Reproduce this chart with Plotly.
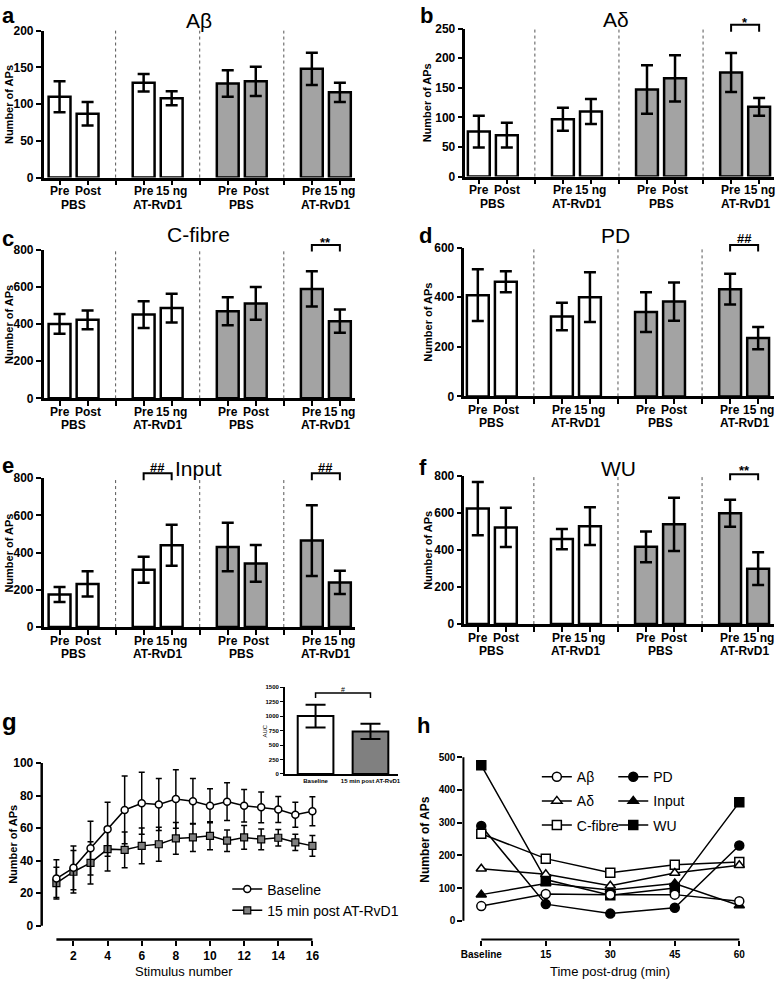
import plotly.graph_objects as go

W, H = 778, 984
FONT = "Liberation Sans, Arial, Helvetica, sans-serif"

# ---------------- data ----------------
bar_pos = [0, 1, 3, 4, 6, 7, 9, 10]
bar_labels = ["Pre", "Post", "Pre", "15 ng", "Pre", "Post", "Pre", "15 ng"]
group_centers = [0.5, 3.5, 6.5, 9.5]
group_labels = ["PBS", "AT-RvD1", "PBS", "AT-RvD1"]
divider_pos = [2, 5, 8]
minor_ticks = list(range(11))
bar_fill = ["white"] * 4 + ["#a3a3a3"] * 4

ab_mean = [110, 87, 129, 108, 128, 131, 148, 116]
ab_err = [21, 16, 12, 9.5, 18, 20, 22, 13]
ad_mean = [76, 70, 97, 110, 147, 166, 176, 118]
ad_err = [27, 21, 19.5, 21, 41, 39, 33, 15]
c_mean = [400, 422, 450, 485, 468, 510, 588, 415]
c_err = [53, 50, 72, 77, 75, 88, 95, 62]
pd_mean = [408, 462, 322, 400, 340, 382, 432, 235]
pd_err = [104, 42, 55, 100, 80, 77, 62, 45]
in_mean = [175, 232, 308, 440, 430, 342, 465, 240]
in_err = [40, 68, 70, 110, 130, 99, 190, 62]
wu_mean = [625, 523, 460, 530, 418, 540, 600, 300]
wu_err = [144, 106, 55, 102, 83, 144, 73, 89]

stim = list(range(1, 17))
g_base = [29, 35.6, 47.7, 59.4, 71.2, 75.3, 74.6, 77.9, 76.5, 73.8, 76.3, 73.8, 72.8, 71.4, 68.2, 70.4]
g_base_err = [11.6, 13.5, 16.5, 16.6, 20.8, 19, 16, 18, 14, 10.5, 11.6, 10, 9.5, 8, 7.7, 8.9]
g_post = [26.2, 33.2, 38.6, 47.1, 46.7, 49.1, 50.1, 53.7, 54.3, 55.3, 52.3, 54.3, 53.1, 54.1, 51.3, 49.1]
g_post_err = [9.7, 13, 13, 13.5, 11, 11, 10.5, 9.7, 8.6, 8.6, 6.6, 7.3, 6.4, 5, 5, 6.4]

auc_labels = ["Baseline", "15 min post AT-RvD1"]
auc_mean = [1000, 735]
auc_err = [197, 133]
auc_fill = ["white", "#808080"]

times = [0, 15, 30, 45, 60]
time_labels = ["Baseline", "15", "30", "45", "60"]
h_ab = [45, 82, 80, 80, 60]
h_ad = [159, 142, 107, 146, 170]
h_c = [266, 190, 147, 171, 180]
h_pd = [290, 51, 22, 40, 230]
h_in = [80, 114, 94, 114, 47]
h_wu = [475, 126, 78, 100, 362]


def px_x(x):
    return x / W


def px_y(y):
    return 1 - y / H


def dom_x(x0, x1):
    return [x0 / W, x1 / W]


def dom_y(ytop, ybot):
    return [1 - ybot / H, 1 - ytop / H]


fig = go.Figure()
layout = dict(
    width=W, height=H, margin=dict(l=0, r=0, t=0, b=0), autosize=False,
    paper_bgcolor="white", plot_bgcolor="white",
    font=dict(family=FONT, color="black"),
    showlegend=True, shapes=[], annotations=[],
)

BOLD = dict(family=FONT, size=12, color="black", weight="bold")

panels = [
    ("a", "Aβ", ab_mean, ab_err, 200, 50, 41, 355, 24, 173, -0.566, (198, 14), (-3, 9), 6, []),
    ("b", "Aδ", ad_mean, ad_err, 250, 50, 466, 777, 22, 172, -0.478, (618, 13), (418, 9), 427,
     [(9, 10, 18, 25, "*", 13)]),
    ("c", "C-fibre", c_mean, c_err, 800, 200, 41, 355, 246, 397, -0.566, (197, 231), (-3, 235), 6,
     [(9, 10, 241.5, 248, "**", 236)]),
    ("d", "PD", pd_mean, pd_err, 600, 200, 465, 777, 244, 395, -0.478, (617, 232), (417, 232), 428,
     [(9, 10, 241.5, 248, "##", 235)]),
    ("e", "Input", in_mean, in_err, 800, 200, 41, 355, 478, 629, -0.566, (197, 468), (-3, 465), 6,
     [(3, 4, 473, 480, "##", 467), (9, 10, 473, 480, "##", 467)]),
    ("f", "WU", wu_mean, wu_err, 800, 200, 465, 777, 476, 626, -0.478, (620, 468), (417, 467), 428,
     [(9, 10, 474, 480, "**", 467)]),
]

UNIT = 28.25

for i, (letter, title, mean, err, ymax, dtick, x0, x1, yt, yb, left, tpos, lpos, ytx, brackets) in enumerate(panels):
    n = i + 1
    xa = "x" if n == 1 else f"x{n}"
    ya = "y" if n == 1 else f"y{n}"
    xk = "xaxis" if n == 1 else f"xaxis{n}"
    yk = "yaxis" if n == 1 else f"yaxis{n}"
    right = left + (x1 - x0) / UNIT
    fig.add_trace(go.Bar(
        x=bar_pos, y=mean, width=0.78, xaxis=xa, yaxis=ya, showlegend=False,
        marker=dict(color=bar_fill, line=dict(color="black", width=2.5)),
        error_y=dict(type="data", array=err, visible=True, color="black", thickness=2.5, width=6),
    ))
    layout[xk] = dict(
        domain=dom_x(x0, x1), range=[left, right], anchor=ya,
        showline=True, linewidth=2.5, linecolor="black",
        tickmode="array", tickvals=group_centers, showticklabels=False, ticks="",
        showgrid=False, zeroline=False, fixedrange=True,
        minor=dict(tickmode="array", tickvals=minor_ticks, ticks="outside", ticklen=5,
                   tickwidth=2, tickcolor="black", showgrid=False),
    )
    layout[yk] = dict(
        domain=dom_y(yt, yb), range=[0, ymax], anchor=xa,
        showline=True, linewidth=2.5, linecolor="black",
        ticks="outside", ticklen=5, tickwidth=2, tickcolor="black", dtick=dtick, tick0=0,
        tickfont=BOLD, showgrid=False, zeroline=False, fixedrange=True,
    )
    for d in divider_pos:
        layout["shapes"].append(dict(type="line", xref=xa, yref=f"{ya} domain", x0=d, x1=d, y0=0, y1=1,
                                     line=dict(color="#555555", width=1, dash="dot")))
    for bx, bl in zip(bar_pos, bar_labels):
        layout["annotations"].append(dict(
            text=bl, xref=xa, yref="paper", x=bx, y=px_y(yb + 14), showarrow=False,
            font=BOLD, xanchor="center", yanchor="middle"))
    for gx, gl in zip(group_centers, group_labels):
        layout["annotations"].append(dict(
            text=gl, xref=xa, yref="paper", x=gx, y=px_y(yb + 27.5), showarrow=False,
            font=BOLD, xanchor="center", yanchor="middle"))
    for (bx0, bx1, byt, byb, txt, tyy) in brackets:
        layout["shapes"].append(dict(
            type="path", xref=xa, yref="paper",
            path=f"M {bx0},{px_y(byb)} L {bx0},{px_y(byt)} L {bx1},{px_y(byt)} L {bx1},{px_y(byb)}",
            line=dict(color="black", width=2)))
        layout["annotations"].append(dict(
            text=txt, xref=xa, yref="paper", x=(bx0 + bx1) / 2, y=px_y(tyy + (3 if txt.startswith("*") else 0)),
            showarrow=False, font=dict(family=FONT, size=13, weight="bold"), xanchor="center", yanchor="middle"))
    layout["annotations"].append(dict(
        text=title, xref="paper", yref="paper", x=px_x(tpos[0]), y=px_y(tpos[1]),
        showarrow=False, font=dict(family=FONT, size=21), xanchor="center", yanchor="middle"))
    layout["annotations"].append(dict(
        text=letter, xref="paper", yref="paper", x=px_x(lpos[0]), y=px_y(lpos[1]),
        showarrow=False, font=dict(family=FONT, size=22, weight="bold"), xanchor="left", yanchor="middle"))
    layout["annotations"].append(dict(
        text="Number of APs", xref="paper", yref="paper", x=px_x(ytx), y=px_y((yt + yb) / 2),
        showarrow=False, textangle=-90, font=dict(family=FONT, size=11, weight="bold"),
        xanchor="center", yanchor="middle"))

# ---------------- panel g ----------------
G_UNIT = 17.2
g_left = 1 - (53.8 - 39) / G_UNIT
g_right = 1 + (320 - 53.8) / G_UNIT
G_YU = 1.65
g_bot = -(946 - 932) / G_YU
g_top = 100 + (767 - 760) / G_YU

fig.add_trace(go.Scatter(
    x=stim, y=g_post, xaxis="x7", yaxis="y7", mode="lines+markers", name="15 min post AT-RvD1",
    line=dict(color="black", width=1.5),
    marker=dict(symbol="square", size=7, color="#808080", line=dict(color="black", width=1.2)),
    error_y=dict(type="data", array=g_post_err, visible=True, color="black", thickness=1.5, width=3),
    legend="legend",
))
fig.add_trace(go.Scatter(
    x=stim, y=g_base, xaxis="x7", yaxis="y7", mode="lines+markers", name="Baseline",
    line=dict(color="black", width=1.5),
    marker=dict(symbol="circle", size=7, color="white", line=dict(color="black", width=1.5)),
    error_y=dict(type="data", array=g_base_err, visible=True, color="black", thickness=1.5, width=3),
    legend="legend",
))
layout["xaxis7"] = dict(domain=dom_x(39, 320), range=[g_left, g_right], anchor="y7",
                        showline=False, tickmode="array", tickvals=list(range(2, 17, 2)),
                        ticks="outside", ticklen=5, tickwidth=2, tickcolor="black",
                        tickfont=BOLD, showgrid=False, zeroline=False, fixedrange=True)
layout["yaxis7"] = dict(domain=dom_y(760, 946), range=[g_bot, g_top], anchor="x7",
                        showline=False, tickmode="array", tickvals=list(range(0, 101, 20)),
                        ticks="outside", ticklen=5, tickwidth=2, tickcolor="black",
                        tickfont=BOLD, showgrid=False, zeroline=False, fixedrange=True)
layout["shapes"].append(dict(type="line", xref="x7", yref="y7 domain", x0=stim[0], x1=stim[-1], y0=0, y1=0,
                             line=dict(color="black", width=2.5)))
layout["shapes"].append(dict(type="line", xref="x7 domain", yref="y7", x0=0, x1=0, y0=0, y1=100,
                             line=dict(color="black", width=2.5)))
layout["annotations"] += [
    dict(text="g", xref="paper", yref="paper", x=px_x(-3), y=px_y(725), showarrow=False,
         font=dict(family=FONT, size=24, weight="bold"), xanchor="left", yanchor="middle"),
    dict(text="Number of APs", xref="paper", yref="paper", x=px_x(10), y=px_y(849), showarrow=False,
         textangle=-90, font=dict(family=FONT, size=11, weight="bold"), xanchor="center", yanchor="middle"),
    dict(text="Stimulus number", xref="paper", yref="paper", x=px_x(182), y=px_y(978), showarrow=False,
         font=dict(family=FONT, size=13), xanchor="center", yanchor="middle"),
]
layout["legend"] = dict(x=px_x(226), y=px_y(879), xanchor="left", yanchor="top",
                        font=dict(family=FONT, size=14), bgcolor="rgba(0,0,0,0)", traceorder="reversed",
                        itemclick=False, itemdoubleclick=False)

# ---------------- inset AUC ----------------
fig.add_trace(go.Bar(
    x=[0, 1], y=auc_mean, width=0.65, xaxis="x8", yaxis="y8", showlegend=False,
    marker=dict(color=auc_fill, line=dict(color="black", width=2)),
    error_y=dict(type="data", array=auc_err, visible=True, color="black", thickness=2, width=10),
))
SMALL = dict(family=FONT, size=6, color="black", weight="bold")
layout["xaxis8"] = dict(domain=dom_x(284, 398), range=[-0.56, 1.5], anchor="y8",
                        showline=True, linewidth=1.5, linecolor="black",
                        tickmode="array", tickvals=[0, 1], ticktext=auc_labels, ticks="",
                        tickfont=SMALL, showgrid=False, zeroline=False, fixedrange=True)
layout["yaxis8"] = dict(domain=dom_y(690, 778), range=[0, 1500], anchor="x8",
                        showline=True, linewidth=1.5, linecolor="black", dtick=250, tick0=0,
                        ticks="outside", ticklen=3, tickwidth=1, tickcolor="black",
                        tickfont=SMALL, showgrid=False, zeroline=False, fixedrange=True)
layout["shapes"].append(dict(type="path", xref="x8", yref="paper",
                             path=f"M 0,{px_y(701)} L 0,{px_y(696)} L 1,{px_y(696)} L 1,{px_y(701)}",
                             line=dict(color="black", width=1.5)))
layout["annotations"] += [
    dict(text="#", xref="x8", yref="paper", x=0.5, y=px_y(692), showarrow=False,
         font=dict(family=FONT, size=7), xanchor="center", yanchor="middle"),
    dict(text="AUC", xref="paper", yref="paper", x=px_x(264), y=px_y(734), showarrow=False, textangle=-90,
         font=dict(family=FONT, size=6), xanchor="center", yanchor="middle"),
]

# ---------------- panel h ----------------
H_UNIT = 65 / 15
h_left = -(482 - 464) / H_UNIT
h_right = (750 - 482) / H_UNIT
H_YU = 166 / 500
h_bot = -(946 - 927) / H_YU
h_top = 500 + (761 - 755) / H_YU

h_series = [
    ("Aβ", h_ab, "circle", "white", "legend2"),
    ("Aδ", h_ad, "triangle-up", "white", "legend2"),
    ("C-fibre", h_c, "square", "white", "legend2"),
    ("PD", h_pd, "circle", "black", "legend3"),
    ("Input", h_in, "triangle-up", "black", "legend3"),
    ("WU", h_wu, "square", "black", "legend3"),
]
draw_order = [5, 3, 4, 2, 1, 0]
for k in draw_order:
    name, vals, sym, fillc, lg = h_series[k]
    fig.add_trace(go.Scatter(
        x=times, y=vals, xaxis="x9", yaxis="y9", mode="lines+markers", name=name,
        line=dict(color="black", width=1.5),
        marker=dict(symbol=sym, size=9, color=fillc, line=dict(color="black", width=1.5)),
        legend=lg, legendrank=k, legendgroup=name,
    ))
TB10 = dict(family=FONT, size=10, color="black", weight="bold")
layout["xaxis9"] = dict(domain=dom_x(464, 750), range=[h_left, h_right], anchor="y9",
                        showline=False, tickmode="array", tickvals=times, ticktext=time_labels,
                        ticks="outside", ticklen=5, tickwidth=2, tickcolor="black",
                        tickfont=TB10, showgrid=False, zeroline=False, fixedrange=True)
layout["yaxis9"] = dict(domain=dom_y(755, 946), range=[h_bot, h_top], anchor="x9",
                        showline=False, tickmode="array", tickvals=list(range(0, 501, 100)),
                        ticks="outside", ticklen=5, tickwidth=2, tickcolor="black",
                        tickfont=TB10, showgrid=False, zeroline=False, fixedrange=True)
layout["shapes"].append(dict(type="line", xref="x9", yref="y9 domain", x0=times[0], x1=times[-1], y0=0, y1=0,
                             line=dict(color="black", width=2)))
layout["shapes"].append(dict(type="line", xref="x9 domain", yref="y9", x0=0, x1=0, y0=0, y1=500,
                             line=dict(color="black", width=2)))
layout["annotations"] += [
    dict(text="h", xref="paper", yref="paper", x=px_x(415), y=px_y(729), showarrow=False,
         font=dict(family=FONT, size=22, weight="bold"), xanchor="left", yanchor="middle"),
    dict(text="Number of APs", xref="paper", yref="paper", x=px_x(425), y=px_y(844), showarrow=False,
         textangle=-90, font=dict(family=FONT, size=12, weight="bold"), xanchor="center", yanchor="middle"),
    dict(text="Time post-drug (min)", xref="paper", yref="paper", x=px_x(612), y=px_y(978), showarrow=False,
         font=dict(family=FONT, size=13), xanchor="center", yanchor="middle"),
]
leg_common = dict(xanchor="left", yanchor="top", font=dict(family=FONT, size=14),
                  bgcolor="rgba(0,0,0,0)", tracegroupgap=3, itemclick=False, itemdoubleclick=False)
layout["legend2"] = dict(x=px_x(538), y=px_y(765), **leg_common)
layout["legend3"] = dict(x=px_x(615), y=px_y(765), **leg_common)

fig.update_layout(**layout)
POST = (
    "document.documentElement.style.margin='0';document.documentElement.style.padding='0';"
    "document.documentElement.style.overflow='hidden';"
    "document.body.style.margin='0';document.body.style.padding='0';document.body.style.overflow='hidden';"
    "var gd=document.querySelector('.plotly-graph-div');"
    "if(gd){gd.style.position='fixed';gd.style.left='0px';gd.style.top='0px';}"
)
fig.write_html("out.html", config={"displayModeBar": False}, post_script=POST)
